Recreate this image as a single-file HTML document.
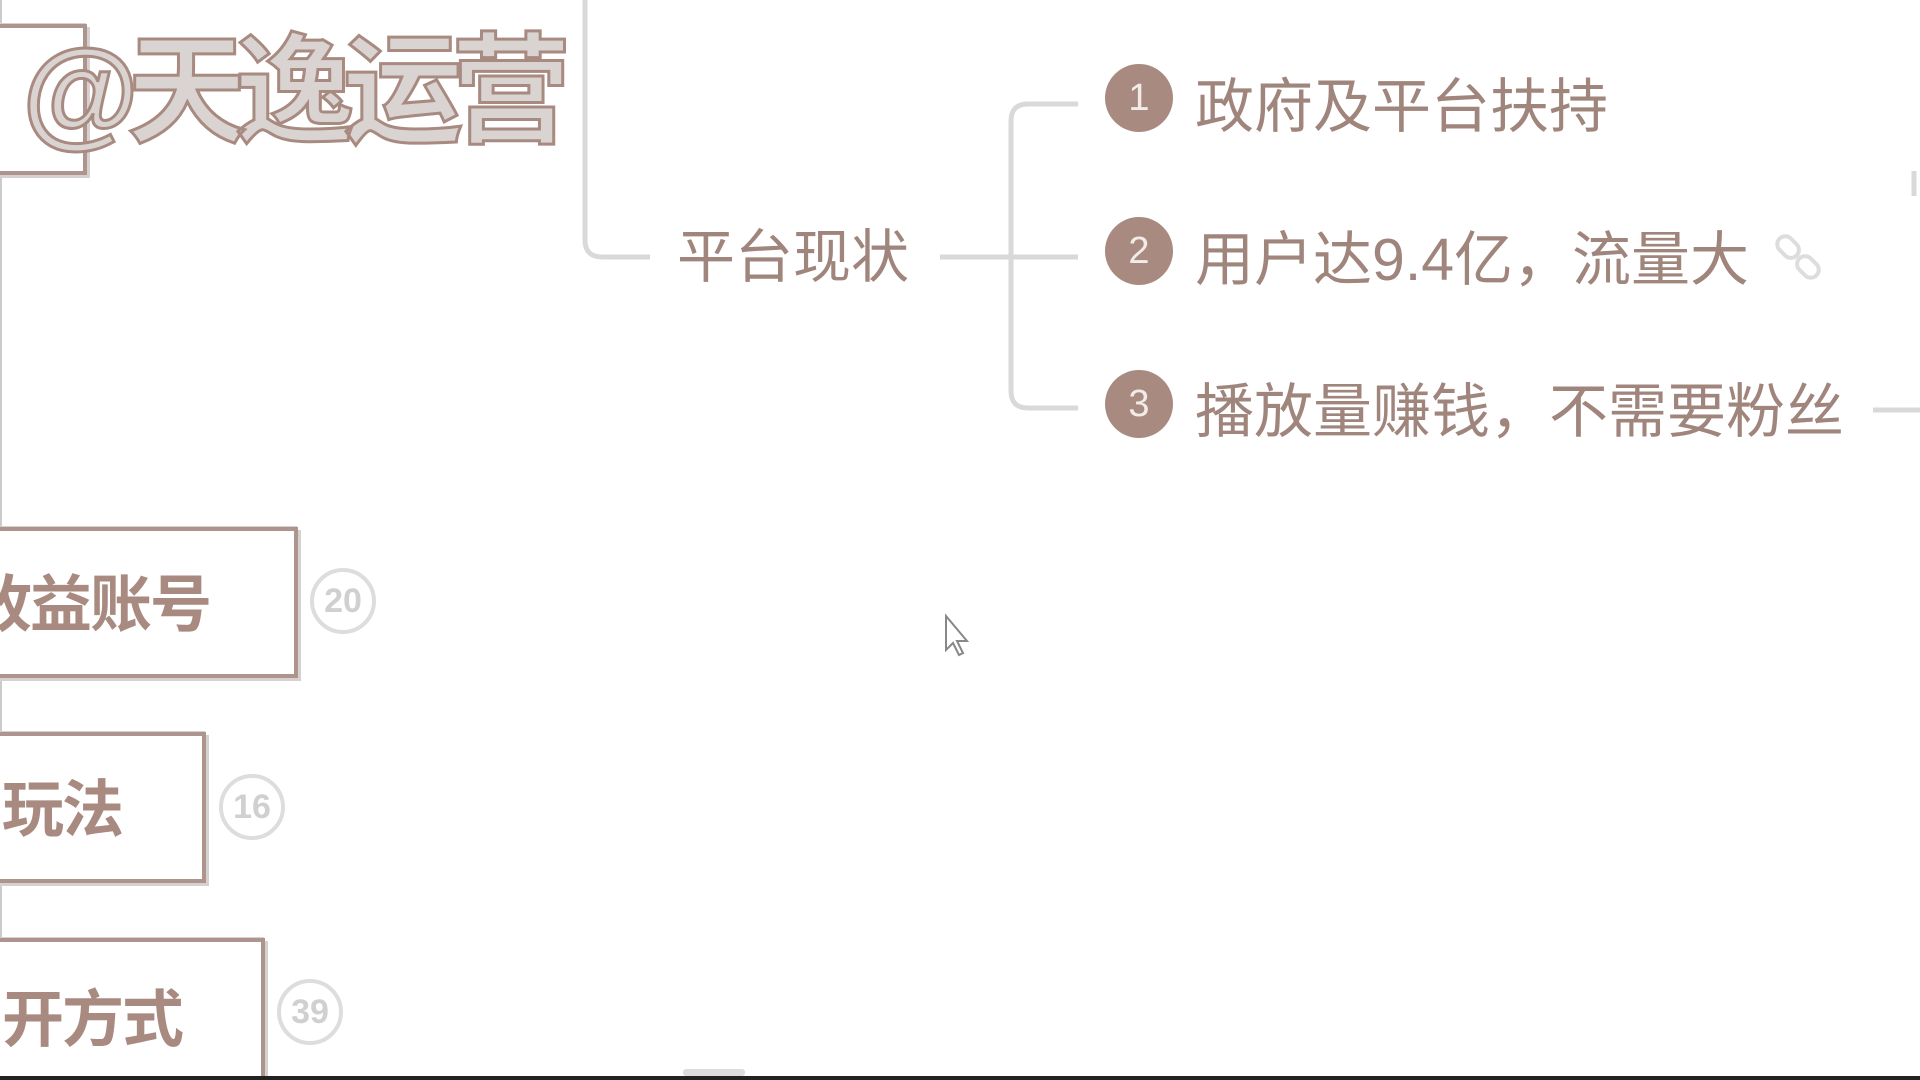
<!DOCTYPE html>
<html><head><meta charset="utf-8"><style>
html,body{margin:0;padding:0;width:1920px;height:1080px;overflow:hidden;background:#fff;}
body{position:relative;font-family:"Liberation Sans","Noto Sans CJK SC",sans-serif;}
.t{position:absolute;color:#a0857c;white-space:nowrap;line-height:1;}
.c{position:absolute;border-radius:50%;background:#a88a80;color:#f2ece9;text-align:center;font-size:38px;}
.box{position:absolute;border:4px solid #ad958d;box-shadow:3px 3px 0 #d6d0ce, -1px -1px 0 #d6d0ce;background:#fff;}
.b{position:absolute;font-weight:bold;color:#a88a80;font-size:62px;white-space:nowrap;line-height:1;letter-spacing:-2px;}
.n{position:absolute;border:4px solid #ddd;border-radius:50%;color:#d0d0d0;font-size:34px;text-align:center;font-weight:bold;}
</style></head><body>
<div style="position:absolute;left:0;top:0;width:2px;height:1080px;background:#ccc"></div>
<svg width="1920" height="1080" style="position:absolute;left:0;top:0">
<g fill="none" stroke="#d9d9d9" stroke-width="5">
<path d="M585 0 V240 Q585 257 602 257 H650"/>
<path d="M940 257 H1078"/>
<path d="M1078 104 H1028 Q1011 104 1011 121 V391 Q1011 408 1028 408 H1078"/>
<path d="M1873 410 H1920"/>
<path d="M1914 171 V196"/>
</g>
<g fill="none" stroke="#ddd" stroke-width="4" transform="translate(1798,257) rotate(-45)">
<rect x="-8" y="-26" width="16" height="24" rx="8"/>
<rect x="-8" y="2" width="16" height="24" rx="8"/>
</g>
<path d="M946 616 L946 650 L953 643 L959 655 L963 653 L957 641 L967 641 Z" fill="#fff" stroke="#888" stroke-width="2"/>
</svg>
<div class="box" style="left:-10px;top:24px;width:89px;height:143px"></div>
<div class="t" style="left:22px;top:32px;font-size:120px;font-weight:bold;color:#d9d4d2;-webkit-text-stroke:3px #a88a80;letter-spacing:-12px">@天逸运营</div>
<div class="t" style="left:677px;top:229px;font-size:58px">平台现状</div>
<div class="c" style="left:1105px;top:64px;width:68px;height:68px;line-height:68px">1</div>
<div class="c" style="left:1105px;top:217px;width:68px;height:68px;line-height:68px">2</div>
<div class="c" style="left:1105px;top:370px;width:68px;height:68px;line-height:68px">3</div>
<div class="t" style="left:1195px;top:78px;font-size:59px">政府及平台扶持</div>
<div class="t" style="left:1195px;top:231px;font-size:59px">用户达9.4亿，流量大</div>
<div class="t" style="left:1195px;top:383px;font-size:59px">播放量赚钱，不需要粉丝</div>
<div class="box" style="left:-10px;top:527px;width:300px;height:143px"></div>
<div class="b" style="left:-30px;top:575px">收益账号</div>
<div class="n" style="left:310px;top:568px;width:58px;height:58px;line-height:58px">20</div>
<div class="box" style="left:-10px;top:732px;width:208px;height:143px"></div>
<div class="b" style="left:2px;top:780px">玩法</div>
<div class="n" style="left:219px;top:774px;width:58px;height:58px;line-height:58px">16</div>
<div class="box" style="left:-10px;top:938px;width:267px;height:150px"></div>
<div class="b" style="left:2px;top:990px">开方式</div>
<div class="n" style="left:277px;top:979px;width:58px;height:58px;line-height:58px">39</div>
<div style="position:absolute;left:683px;top:1069px;width:62px;height:7px;background:#ddd;border-radius:3px"></div>
<div style="position:absolute;left:0;top:1076px;width:1920px;height:4px;background:#222"></div>
</body></html>
